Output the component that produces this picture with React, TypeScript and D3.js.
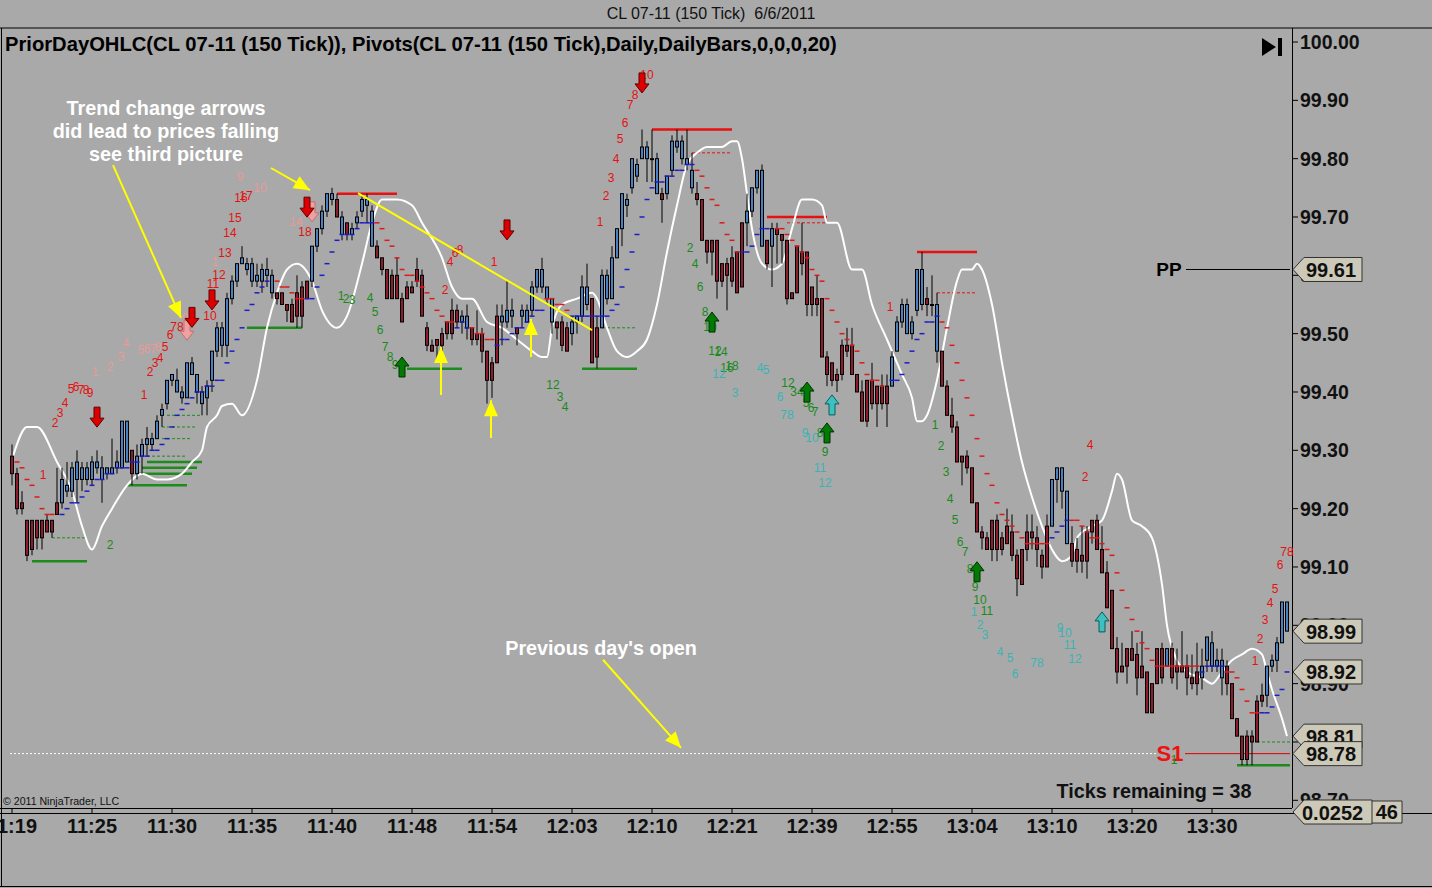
import * as d3 from "d3";

const W = 1432;
const H = 888;

// time axis labels, one every 16 bars
const timeLabels = ["11:19", "11:25", "11:30", "11:35", "11:40", "11:48", "11:54", "12:03", "12:10", "12:21", "12:39", "12:55", "13:04", "13:10", "13:20", "13:30"];
const priceTicks = [100.0, 99.9, 99.8, 99.7, 99.6, 99.5, 99.4, 99.3, 99.2, 99.1, 99.0, 98.9, 98.8, 98.7];

type Bar = [number, number, number, number]; // open, high, low, close

const bars1119: Bar[] = [
  [99.29, 99.31, 99.24, 99.26], [99.26, 99.27, 99.19, 99.2], [99.21, 99.23, 99.19, 99.2], [99.18, 99.18, 99.11, 99.12],
  [99.18, 99.18, 99.12, 99.13], [99.18, 99.18, 99.13, 99.15], [99.18, 99.18, 99.13, 99.15], [99.18, 99.19, 99.16, 99.16],
  [99.18, 99.18, 99.15, 99.16], [99.21, 99.27, 99.19, 99.19], [99.21, 99.27, 99.2, 99.25], [99.23, 99.28, 99.22, 99.24],
  [99.23, 99.28, 99.22, 99.27], [99.25, 99.3, 99.21, 99.28], [99.25, 99.28, 99.23, 99.27], [99.25, 99.28, 99.24, 99.27],
];
const bars1125: Bar[] = [
  [99.25, 99.29, 99.24, 99.28], [99.27, 99.3, 99.26, 99.28], [99.25, 99.29, 99.21, 99.27], [99.26, 99.27, 99.25, 99.27],
  [99.26, 99.32, 99.26, 99.27], [99.27, 99.3, 99.26, 99.28], [99.27, 99.35, 99.27, 99.35], [99.28, 99.35, 99.28, 99.35],
  [99.3, 99.3, 99.24, 99.26], [99.26, 99.31, 99.25, 99.29], [99.29, 99.32, 99.26, 99.31], [99.31, 99.34, 99.29, 99.32],
  [99.31, 99.33, 99.3, 99.32], [99.32, 99.36, 99.32, 99.35], [99.36, 99.38, 99.34, 99.37], [99.38, 99.42, 99.37, 99.42],
];
const bars1130: Bar[] = [
  [99.42, 99.43, 99.41, 99.43], [99.4, 99.44, 99.4, 99.42], [99.39, 99.41, 99.38, 99.4], [99.39, 99.45, 99.39, 99.45],
  [99.43, 99.46, 99.43, 99.45], [99.4, 99.43, 99.38, 99.43], [99.38, 99.41, 99.36, 99.4], [99.39, 99.42, 99.36, 99.41],
  [99.42, 99.47, 99.4, 99.47], [99.47, 99.52, 99.46, 99.51], [99.48, 99.52, 99.46, 99.51], [99.48, 99.57, 99.46, 99.56],
  [99.56, 99.6, 99.55, 99.59], [99.59, 99.62, 99.58, 99.62], [99.62, 99.65, 99.62, 99.63], [99.61, 99.63, 99.6, 99.62],
];
const bars1135: Bar[] = [
  [99.59, 99.63, 99.58, 99.62], [99.59, 99.62, 99.58, 99.6], [99.59, 99.62, 99.57, 99.61], [99.6, 99.63, 99.58, 99.61],
  [99.57, 99.61, 99.56, 99.6], [99.57, 99.57, 99.55, 99.56], [99.57, 99.57, 99.55, 99.55], [99.55, 99.55, 99.52, 99.54],
  [99.55, 99.56, 99.52, 99.52], [99.57, 99.6, 99.51, 99.53], [99.58, 99.59, 99.51, 99.53], [99.59, 99.59, 99.56, 99.56],
  [99.59, 99.65, 99.58, 99.65], [99.65, 99.68, 99.64, 99.68], [99.68, 99.72, 99.67, 99.71], [99.71, 99.74, 99.7, 99.74],
];
const bars1140: Bar[] = [
  [99.73, 99.75, 99.72, 99.74], [99.73, 99.74, 99.7, 99.7], [99.67, 99.71, 99.66, 99.7], [99.69, 99.69, 99.66, 99.67],
  [99.67, 99.69, 99.66, 99.68], [99.69, 99.71, 99.68, 99.7], [99.71, 99.74, 99.7, 99.73], [99.72, 99.74, 99.69, 99.73],
  [99.65, 99.72, 99.65, 99.71], [99.65, 99.66, 99.63, 99.63], [99.63, 99.63, 99.6, 99.61], [99.61, 99.61, 99.56, 99.56],
  [99.6, 99.61, 99.56, 99.56], [99.6, 99.63, 99.56, 99.56], [99.56, 99.57, 99.52, 99.52], [99.58, 99.59, 99.56, 99.56],
];
const bars1148: Bar[] = [
  [99.58, 99.59, 99.57, 99.57], [99.61, 99.63, 99.58, 99.59], [99.6, 99.61, 99.53, 99.53], [99.51, 99.52, 99.47, 99.48],
  [99.48, 99.49, 99.47, 99.47], [99.49, 99.49, 99.45, 99.48], [99.5, 99.51, 99.45, 99.48], [99.52, 99.52, 99.49, 99.5],
  [99.54, 99.56, 99.49, 99.5], [99.54, 99.55, 99.51, 99.52], [99.52, 99.54, 99.5, 99.53], [99.51, 99.55, 99.49, 99.53],
  [99.51, 99.51, 99.48, 99.49], [99.5, 99.54, 99.48, 99.49], [99.5, 99.51, 99.45, 99.47], [99.47, 99.47, 99.38, 99.42],
];
const bars1154: Bar[] = [
  [99.45, 99.46, 99.39, 99.42], [99.53, 99.55, 99.45, 99.45], [99.52, 99.55, 99.48, 99.53], [99.52, 99.59, 99.51, 99.54],
  [99.53, 99.56, 99.51, 99.54], [99.51, 99.51, 99.48, 99.5], [99.53, 99.55, 99.51, 99.54], [99.52, 99.55, 99.52, 99.54],
  [99.54, 99.59, 99.53, 99.58], [99.58, 99.61, 99.57, 99.61], [99.58, 99.63, 99.57, 99.61], [99.56, 99.58, 99.55, 99.58],
  [99.52, 99.56, 99.5, 99.56], [99.52, 99.52, 99.49, 99.51], [99.52, 99.53, 99.47, 99.48], [99.51, 99.52, 99.47, 99.47],
];
const bars1203: Bar[] = [
  [99.5, 99.53, 99.48, 99.52], [99.52, 99.53, 99.5, 99.53], [99.53, 99.6, 99.52, 99.58], [99.55, 99.62, 99.54, 99.58],
  [99.56, 99.56, 99.45, 99.45], [99.51, 99.53, 99.44, 99.46], [99.51, 99.61, 99.51, 99.6], [99.56, 99.61, 99.55, 99.6],
  [99.56, 99.65, 99.56, 99.63], [99.63, 99.68, 99.63, 99.68], [99.68, 99.74, 99.65, 99.74], [99.72, 99.74, 99.7, 99.73],
  [99.75, 99.8, 99.74, 99.8], [99.77, 99.8, 99.76, 99.79], [99.8, 99.85, 99.8, 99.82], [99.8, 99.83, 99.76, 99.82],
];
const bars1210: Bar[] = [
  [99.8, 99.85, 99.76, 99.8], [99.74, 99.81, 99.74, 99.8], [99.74, 99.75, 99.69, 99.73], [99.74, 99.77, 99.73, 99.77],
  [99.78, 99.84, 99.77, 99.83], [99.82, 99.85, 99.81, 99.83], [99.8, 99.84, 99.79, 99.83], [99.79, 99.85, 99.78, 99.8],
  [99.75, 99.81, 99.74, 99.78], [99.74, 99.76, 99.72, 99.73], [99.73, 99.73, 99.66, 99.66], [99.66, 99.66, 99.62, 99.64],
  [99.66, 99.66, 99.6, 99.64], [99.66, 99.66, 99.56, 99.59], [99.62, 99.62, 99.58, 99.59], [99.62, 99.63, 99.54, 99.6],
];
const bars1221: Bar[] = [
  [99.63, 99.65, 99.58, 99.59], [99.64, 99.64, 99.57, 99.57], [99.69, 99.69, 99.58, 99.58], [99.69, 99.74, 99.65, 99.71],
  [99.71, 99.75, 99.7, 99.75], [99.75, 99.78, 99.74, 99.78], [99.65, 99.79, 99.65, 99.78], [99.66, 99.66, 99.61, 99.62],
  [99.65, 99.69, 99.58, 99.68], [99.68, 99.69, 99.62, 99.67], [99.67, 99.67, 99.62, 99.66], [99.66, 99.66, 99.55, 99.56],
  [99.57, 99.57, 99.56, 99.56], [99.65, 99.65, 99.57, 99.57], [99.64, 99.69, 99.6, 99.62], [99.64, 99.64, 99.53, 99.55],
];
const bars1239: Bar[] = [
  [99.58, 99.58, 99.53, 99.55], [99.56, 99.6, 99.53, 99.55], [99.56, 99.56, 99.46, 99.46], [99.46, 99.47, 99.41, 99.43],
  [99.45, 99.45, 99.41, 99.42], [99.43, 99.44, 99.4, 99.42], [99.48, 99.49, 99.42, 99.43], [99.48, 99.51, 99.46, 99.47],
  [99.48, 99.51, 99.43, 99.43], [99.43, 99.43, 99.4, 99.4], [99.4, 99.42, 99.35, 99.35], [99.42, 99.42, 99.34, 99.35],
  [99.42, 99.45, 99.37, 99.38], [99.41, 99.41, 99.34, 99.38], [99.41, 99.43, 99.37, 99.38], [99.41, 99.43, 99.34, 99.38],
];
const bars1255: Bar[] = [
  [99.41, 99.47, 99.41, 99.46], [99.47, 99.53, 99.47, 99.52], [99.52, 99.56, 99.51, 99.55], [99.5, 99.56, 99.5, 99.55],
  [99.5, 99.53, 99.49, 99.52], [99.54, 99.61, 99.53, 99.61], [99.55, 99.64, 99.54, 99.61], [99.56, 99.58, 99.53, 99.55],
  [99.55, 99.6, 99.53, 99.55], [99.47, 99.57, 99.45, 99.55], [99.47, 99.47, 99.41, 99.41], [99.41, 99.42, 99.36, 99.36],
  [99.36, 99.39, 99.33, 99.34], [99.34, 99.35, 99.28, 99.28], [99.29, 99.29, 99.24, 99.28], [99.29, 99.3, 99.26, 99.27],
];
const bars1304: Bar[] = [
  [99.27, 99.27, 99.21, 99.21], [99.21, 99.21, 99.16, 99.16], [99.16, 99.17, 99.13, 99.15], [99.15, 99.16, 99.13, 99.13],
  [99.18, 99.18, 99.11, 99.13], [99.18, 99.19, 99.11, 99.13], [99.15, 99.16, 99.12, 99.13], [99.17, 99.2, 99.14, 99.14],
  [99.16, 99.19, 99.11, 99.12], [99.12, 99.13, 99.05, 99.08], [99.13, 99.13, 99.07, 99.07], [99.16, 99.19, 99.11, 99.13],
  [99.16, 99.19, 99.13, 99.15], [99.15, 99.17, 99.1, 99.13], [99.12, 99.13, 99.08, 99.1], [99.17, 99.19, 99.1, 99.1],
];
const bars1310: Bar[] = [
  [99.17, 99.25, 99.17, 99.25], [99.25, 99.27, 99.21, 99.27], [99.23, 99.27, 99.2, 99.27], [99.14, 99.23, 99.14, 99.23],
  [99.14, 99.17, 99.1, 99.11], [99.13, 99.15, 99.09, 99.11], [99.12, 99.17, 99.09, 99.11], [99.16, 99.17, 99.08, 99.11],
  [99.18, 99.18, 99.14, 99.16], [99.18, 99.19, 99.13, 99.13], [99.13, 99.17, 99.09, 99.09], [99.09, 99.11, 99.03, 99.03],
  [99.06, 99.06, 98.96, 98.96], [98.96, 98.98, 98.9, 98.92], [98.93, 98.97, 98.92, 98.92], [98.96, 98.96, 98.9, 98.93],
];
const bars1320: Bar[] = [
  [98.96, 98.99, 98.94, 98.94], [98.95, 98.97, 98.88, 98.91], [98.93, 98.99, 98.91, 98.91], [98.92, 98.92, 98.85, 98.85],
  [98.9, 98.9, 98.85, 98.85], [98.96, 98.96, 98.9, 98.9], [98.96, 98.97, 98.9, 98.91], [98.93, 98.96, 98.93, 98.96],
  [98.96, 98.97, 98.9, 98.91], [98.93, 98.96, 98.89, 98.92], [98.93, 98.99, 98.92, 98.92], [98.93, 98.95, 98.88, 98.91],
  [98.91, 98.95, 98.89, 98.9], [98.92, 98.97, 98.88, 98.9], [98.91, 98.96, 98.89, 98.93], [98.94, 98.98, 98.92, 98.98],
];
const bars1330: Bar[] = [
  [98.93, 98.99, 98.92, 98.97], [98.93, 98.96, 98.92, 98.94], [98.91, 98.96, 98.88, 98.94], [98.93, 98.94, 98.88, 98.9],
  [98.9, 98.9, 98.84, 98.84], [98.84, 98.84, 98.81, 98.81], [98.81, 98.81, 98.76, 98.77], [98.81, 98.82, 98.76, 98.77],
  [98.81, 98.82, 98.76, 98.8], [98.87, 98.88, 98.8, 98.8], [98.88, 98.9, 98.86, 98.87], [98.88, 98.93, 98.86, 98.93],
  [98.93, 98.95, 98.92, 98.94], [98.94, 98.98, 98.92, 98.97], [98.97, 99.04, 98.97, 99.04], [98.99, 99.04, 98.99, 99.04],
];

// white band line: [bar, price]
const whiteBand: [number, number][] = [
  [0.2, 99.29], [3, 99.34], [5, 99.34], [9, 99.28], [12, 99.23], [14, 99.17], [16, 99.13], [18, 99.17], [20, 99.2],
  [23, 99.24], [26, 99.26], [29, 99.25], [31, 99.25], [34, 99.26], [36, 99.28], [38, 99.3], [39, 99.34], [41, 99.36],
  [42, 99.376], [44, 99.38], [46, 99.36], [49, 99.42], [51, 99.51], [53, 99.57], [55, 99.61], [57, 99.62], [60, 99.59],
  [62, 99.54], [65, 99.51], [67, 99.53], [70, 99.62], [72, 99.69], [74, 99.73], [77, 99.73], [80, 99.72], [82, 99.69],
  [86, 99.63], [88, 99.58], [90, 99.56], [92, 99.56], [95, 99.52], [98, 99.51], [101, 99.49], [104, 99.47], [106, 99.46],
  [107, 99.46], [108, 99.51], [110, 99.55], [113, 99.56], [116, 99.57], [117, 99.56], [119, 99.51], [121, 99.47],
  [123, 99.46], [125, 99.47], [127, 99.49], [129, 99.55], [131, 99.64], [133, 99.72], [135, 99.79], [137, 99.81],
  [139, 99.82], [141, 99.82], [142, 99.82], [144, 99.83], [145, 99.83], [146, 99.8], [147, 99.74], [148, 99.68],
  [150, 99.62], [152, 99.61], [154, 99.62], [156, 99.68], [158, 99.73], [160, 99.73], [162, 99.72], [163, 99.69],
  [165, 99.69], [168, 99.61], [170, 99.61], [172, 99.55], [175, 99.49], [178, 99.43], [180, 99.39], [181, 99.35],
  [182, 99.35], [183, 99.36], [185, 99.42], [187, 99.51], [189, 99.59], [190, 99.61], [192, 99.61], [193, 99.62],
  [194, 99.61], [196, 99.55], [198, 99.45], [200, 99.36], [202, 99.28], [204, 99.22], [206, 99.17], [208, 99.13],
  [210, 99.11], [212, 99.12], [213, 99.15], [216, 99.17], [218, 99.18], [220, 99.23], [221, 99.26], [222, 99.25],
  [224, 99.18], [226, 99.17], [228, 99.15], [230, 99.07], [231, 99.0], [233, 98.94], [235, 98.92], [238, 98.91],
  [240, 98.9], [242, 98.92], [244, 98.94], [246, 98.95], [248, 98.96], [250, 98.95], [251, 98.92], [252, 98.89],
  [254, 98.84], [255, 98.81],
];

// trailing stop dashes: [first bar, prices]
const blueStops: [number, number[]][] = [
  [10, [99.19, 99.2, 99.21, 99.21, 99.22, 99.23, 99.24, 99.25, 99.25, 99.26, 99.26, 99.27, 99.27, 99.27, 99.28, 99.28, 99.29, 99.29, 99.3, 99.3, 99.31, 99.32, 99.34, 99.36, 99.37, 99.38, 99.39, 99.4, 99.4, 99.41, 99.41, 99.42, 99.42, 99.45, 99.47, 99.49, 99.51, 99.54, 99.55, 99.57, 99.58, 99.59]],
  [59, [99.56, 99.56, 99.58, 99.6, 99.62, 99.64, 99.66, 99.67, 99.67, 99.67, 99.68, 99.69, 99.69, 99.69]],
  [89, [99.51, 99.52, 99.51]],
  [97, [99.48, 99.49, 99.49, 99.5, 99.51, 99.51, 99.52, 99.53, 99.54, 99.54]],
  [112, [99.53, 99.53, 99.53, 99.53, 99.53, 99.53, 99.53, 99.53, 99.54, 99.55, 99.58, 99.61, 99.64, 99.67, 99.7, 99.73, 99.75, 99.76, 99.76, 99.77, 99.77, 99.78, 99.78, 99.79, 99.79]],
  [146, [99.64, 99.64, 99.65, 99.67, 99.68, 99.68]],
  [176, [99.42, 99.42, 99.43, 99.45, 99.47, 99.49, 99.5, 99.52, 99.52, 99.53]],
  [208, [99.15, 99.16, 99.17, 99.18]],
  [238, [98.92, 98.93, 98.93, 98.93, 98.93]],
  [250, [98.85, 98.85, 98.86, 98.88, 98.89, 98.92]],
];
const redStops: [number, number[]][] = [
  [1, [99.28, 99.27, 99.25, 99.24, 99.22, 99.2, 99.19, 99.19]],
  [53, [99.59, 99.58, 99.58, 99.57, 99.56, 99.56]],
  [73, [99.69, 99.68, 99.66, 99.65, 99.63, 99.61, 99.6, 99.6, 99.59, 99.58, 99.57, 99.56, 99.54, 99.53, 99.52, 99.52]],
  [92, [99.51, 99.5, 99.5, 99.49, 99.49]],
  [107, [99.56, 99.56, 99.55, 99.55, 99.54]],
  [137, [99.78, 99.77, 99.75, 99.73, 99.72, 99.69, 99.67, 99.66, 99.64]],
  [153, [99.68, 99.68, 99.67, 99.66, 99.65, 99.64, 99.63, 99.61, 99.6, 99.59, 99.56, 99.54, 99.52, 99.5, 99.49, 99.48, 99.47, 99.45, 99.43, 99.42, 99.42, 99.41]],
  [186, [99.52, 99.51, 99.48, 99.45, 99.42, 99.39, 99.36, 99.32, 99.29, 99.26, 99.24, 99.21, 99.19, 99.18, 99.17, 99.16, 99.15, 99.14, 99.14, 99.14, 99.14, 99.14]],
  [212, [99.18, 99.18, 99.17, 99.16, 99.15, 99.15, 99.14, 99.13, 99.12, 99.09, 99.06, 99.03, 99.01, 98.99, 98.97, 98.96, 98.94, 98.93, 98.93, 98.93, 98.93, 98.93, 98.93, 98.93, 98.93, 98.93]],
  [243, [98.92, 98.92, 98.91, 98.89, 98.87, 98.85, 98.85]],
];

// swing levels: [from bar, to bar, price, dashed]
const greenLevels: [number, number, number, boolean][] = [
  [4, 15, 99.11, false], [8, 15, 99.15, true], [23, 35, 99.24, false], [25, 36, 99.26, false], [26, 37, 99.27, false],
  [27, 38, 99.28, false], [27, 35, 99.29, true], [30, 36, 99.32, true], [30, 37, 99.34, true], [31, 38, 99.36, true],
  [47, 58, 99.51, false], [79, 90, 99.44, false], [114, 125, 99.44, false], [118, 125, 99.51, true],
  [245, 255.6, 98.76, false], [249, 255.6, 98.8, true],
];
const redLevels: [number, number, number, boolean][] = [
  [65, 77, 99.74, false], [128, 144, 99.85, false], [136, 144, 99.81, true], [151, 163, 99.7, false],
  [155, 163, 99.69, true], [181, 193, 99.64, false], [185, 193, 99.57, true],
];

// trend arrows: [bar, price]
const redDownArrows: [number, number][] = [[17, 99.374], [36, 99.545], [40, 99.575], [59, 99.734], [99, 99.695], [126, 99.947]];
const paleDownArrows: [number, number][] = [[35, 99.523], [60, 99.726]];
const greenUpArrows: [number, number][] = [[78, 99.46], [140, 99.537], [159, 99.417], [163, 99.347], [193, 99.109]];
const cyanUpArrows: [number, number][] = [[164, 99.395], [218, 99.023]];

// setup counts: [bar, price, label]
const redCounts: [number, number, string][] = [
  [6.2, 99.258, "1"], [8.6, 99.347, "2"], [9.6, 99.364, "3"], [10.6, 99.381, "4"], [11.8, 99.405, "5"], [12.8, 99.409, "6"],
  [13.8, 99.403, "7"], [14.8, 99.403, "8"], [15.6, 99.398, "9"], [26.4, 99.395, "1"], [27.6, 99.434, "2"], [28.6, 99.45, "3"],
  [29.6, 99.458, "4"], [30.6, 99.477, "5"], [31.6, 99.498, "6"], [33, 99.511, "78"], [39.6, 99.53, "10"], [40.2, 99.585, "11"],
  [41.4, 99.601, "12"], [42.6, 99.638, "13"], [43.6, 99.673, "14"], [44.6, 99.698, "15"], [45.8, 99.733, "16"], [46.8, 99.736, "17"],
  [58.6, 99.674, "18"], [86.6, 99.575, "2"], [87.6, 99.623, "4"], [88.6, 99.638, "6"], [89.6, 99.643, "8"], [96.4, 99.623, "1"],
  [117.6, 99.691, "1"], [118.8, 99.736, "2"], [119.8, 99.767, "3"], [120.8, 99.799, "4"], [121.6, 99.834, "5"], [122.6, 99.861, "6"],
  [123.6, 99.892, "7"], [124.6, 99.909, "8"], [127, 99.943, "10"], [175.6, 99.546, "1"], [214.6, 99.254, "2"], [215.6, 99.309, "4"],
  [248.6, 98.939, "1"], [249.6, 98.977, "2"], [250.6, 99.009, "3"], [251.6, 99.038, "4"], [252.6, 99.062, "5"], [253.6, 99.103, "6"],
  [255, 99.126, "78"],
];
const paleCounts: [number, number, string][] = [
  [16.6, 99.434, "1"], [19.6, 99.443, "2"], [21.8, 99.46, "3"], [22.8, 99.484, "4"], [25.8, 99.472, "5"], [27, 99.474, "6"],
  [28.2, 99.474, "7"], [29.2, 99.477, "8"], [34.6, 99.527, "9"], [40.6, 99.623, "1"], [45.6, 99.769, "9"], [49.6, 99.75, "10"],
  [56.8, 99.691, "14"],
];
const greenCounts: [number, number, string][] = [
  [19.6, 99.138, "2"], [65.8, 99.565, "1"], [66.8, 99.559, "2"], [68, 99.558, "3"], [71.6, 99.561, "4"], [72.6, 99.537, "5"],
  [73.6, 99.506, "6"], [74.6, 99.477, "7"], [75.6, 99.46, "8"], [76.6, 99.446, "9"], [108.2, 99.412, "12"], [109.6, 99.391, "3"],
  [110.6, 99.374, "4"], [135.6, 99.647, "2"], [136.6, 99.619, "4"], [137.6, 99.58, "6"], [138.6, 99.537, "8"], [139.6, 99.511, "10"],
  [140.6, 99.47, "12"], [141.8, 99.469, "14"], [143, 99.441, "16"], [144, 99.445, "18"], [155.2, 99.415, "12"], [157, 99.4, "34"],
  [158.8, 99.381, "5"], [159.8, 99.373, "6"], [160.6, 99.366, "7"], [161.6, 99.33, "8"], [162.6, 99.297, "9"], [184.6, 99.343, "1"],
  [185.8, 99.307, "2"], [186.8, 99.263, "3"], [187.6, 99.217, "4"], [188.6, 99.181, "5"], [189.6, 99.143, "6"], [190.6, 99.126, "7"],
  [191.6, 99.097, "8"], [192.6, 99.066, "9"], [193.6, 99.043, "10"], [195, 99.025, "11"], [232.4, 98.769, "1"],
];
const cyanCounts: [number, number, string][] = [
  [141.4, 99.431, "12"], [144.6, 99.398, "3"], [149.6, 99.441, "4"], [150.8, 99.438, "5"], [153.6, 99.391, "6"], [155, 99.361, "78"],
  [158.6, 99.33, "9"], [160, 99.321, "10"], [161.6, 99.27, "11"], [162.6, 99.244, "12"], [192.4, 99.023, "1"], [193.6, 99.001, "2"],
  [194.6, 98.983, "3"], [197.6, 98.954, "4"], [199.6, 98.944, "5"], [200.6, 98.917, "6"], [205, 98.935, "78"], [209.6, 98.995, "9"],
  [210.6, 98.987, "10"], [211.6, 98.966, "11"], [212.6, 98.942, "12"],
];

// drawn annotations: [bar, price] pairs
const yellowArrows: [number, number][][] = [
  [[20.2, 99.789], [33.8, 99.527]],
  [[51.8, 99.784], [59.6, 99.746]],
  [[118.2, 98.941], [133.8, 98.79]],
  [[85.8, 99.395], [85.8, 99.477]],
  [[95.8, 99.321], [95.8, 99.386]],
  [[103.8, 99.46], [103.8, 99.525]],
];
const yellowTrendLine: [number, number][] = [[69.2, 99.741], [116, 99.506]];

const pivotPP = 99.61;
const pivotS1 = 98.78;
const priorOpen = 98.78;
const axisMarkers = [99.61, 98.99, 98.92, 98.81, 98.78];

const FONT = "'Liberation Sans', Arial, sans-serif";

const headPoints = (x1: number, y1: number, x2: number, y2: number, len: number, wid: number) => {
  const a = Math.atan2(y2 - y1, x2 - x1);
  const bx = x2 - len * Math.cos(a);
  const by = y2 - len * Math.sin(a);
  const px = (wid / 2) * Math.sin(a);
  const py = (wid / 2) * Math.cos(a);
  return `${x2},${y2} ${bx + px},${by - py} ${bx - px},${by + py}`;
};

const downArrow = (cx: number, top: number) => `M${cx - 3},${top} h6 v11 h4 l-7,9 l-7,-9 h4 z`;
const upArrow = (cx: number, tip: number) => `M${cx},${tip} l7,9 h-4 v11 h-6 v-11 h-4 z`;

export default function App() {
  const bars = [
    ...bars1119, ...bars1125, ...bars1130, ...bars1135, ...bars1140, ...bars1148, ...bars1154, ...bars1203,
    ...bars1210, ...bars1221, ...bars1239, ...bars1255, ...bars1304, ...bars1310, ...bars1320, ...bars1330,
  ];
  const x = d3.scaleLinear().domain([0, 255]).range([12, 1287]);
  const y = d3.scaleLinear().domain([98.7, 100]).range([800.3, 42]);
  const band = d3.line<[number, number]>().x((d) => x(d[0])).y((d) => y(d[1])).curve(d3.curveMonotoneX);

  const countText = (list: [number, number, string][], fill: string, key: string) =>
    list.map(([b, p, t], i) => (
      <text key={key + i} x={x(b)} y={y(p)} fill={fill} fontSize={12} textAnchor="middle" dominantBaseline="central" fontFamily={FONT}>{t}</text>
    ));

  const stopDashes = (runs: [number, number[]][], stroke: string, key: string) =>
    runs.flatMap(([start, vals], r) =>
      vals.map((p, i) => (
        <line key={`${key}${r}-${i}`} x1={x(start + i) - 2.5} x2={x(start + i) + 2.5} y1={y(p)} y2={y(p)} stroke={stroke} strokeWidth={1.5} />
      ))
    );

  const levels = (list: [number, number, number, boolean][], stroke: string, key: string) =>
    list.map(([a, b, p, dashed], i) => (
      <line key={key + i} x1={x(a)} x2={x(b)} y1={y(p)} y2={y(p)} stroke={stroke}
        strokeWidth={dashed ? 1 : 2.5} strokeDasharray={dashed ? "3,2" : undefined} />
    ));

  return (
    <div style={{ position: "absolute", left: 0, top: 0 }}>
      <svg width={W} height={H} style={{ display: "block" }}>
        <rect x={0} y={0} width={W} height={H} fill="#a9a9a9" />
        <text x={711} y={19} textAnchor="middle" fontSize={16} fontFamily={FONT} fill="#111" style={{ whiteSpace: "pre" }}>
          {"CL 07-11 (150 Tick)  6/6/2011"}
        </text>

        {/* frame */}
        <line x1={0} x2={W} y1={28} y2={28} stroke="#000" />
        <line x1={1.5} x2={1.5} y1={28} y2={887} stroke="#000" />
        <line x1={1292.5} x2={1292.5} y1={28} y2={808} stroke="#000" />
        <line x1={0} x2={1292} y1={808.5} y2={808.5} stroke="#000" />
        <line x1={0} x2={W} y1={813.5} y2={813.5} stroke="#000" />
        <line x1={0} x2={W} y1={886.5} y2={886.5} stroke="#000" />

        {/* price axis */}
        {priceTicks.map((p) => (
          <g key={p}>
            <line x1={1292} x2={1298} y1={y(p)} y2={y(p)} stroke="#000" />
            <text x={1300} y={y(p) + 7} fontSize={19.5} fontWeight="bold" fontFamily={FONT} fill="#111">{p.toFixed(2)}</text>
          </g>
        ))}

        {/* time axis */}
        {timeLabels.map((t, i) => (
          <g key={t}>
            <line x1={x(i * 16)} x2={x(i * 16)} y1={808} y2={813} stroke="#000" />
            <text x={x(i * 16)} y={833} textAnchor="middle" fontSize={20} fontWeight="bold" fontFamily={FONT} fill="#111">{t}</text>
          </g>
        ))}

        <text x={5} y={51} fontSize={20.2} fontWeight="bold" fontFamily={FONT} fill="#000">
          PriorDayOHLC(CL 07-11 (150 Tick)), Pivots(CL 07-11 (150 Tick),Daily,DailyBars,0,0,0,20)
        </text>
        <path d="M1262,38 L1262,56 L1276,47 Z" fill="#000" />
        <rect x={1278} y={38} width={4} height={18} fill="#000" />

        {/* prior open and pivots */}
        <line x1={x(-0.4)} x2={1158} y1={y(priorOpen)} y2={y(priorOpen)} stroke="#fff" strokeDasharray="2,2" />
        <line x1={1185} x2={1290} y1={y(pivotS1)} y2={y(pivotS1)} stroke="#e00000" />
        <text x={1170} y={y(pivotS1)} fill="#ee1111" fontSize={22} fontWeight="bold" textAnchor="middle" dominantBaseline="central" fontFamily={FONT}>S1</text>
        <line x1={1186} x2={1290} y1={y(pivotPP)} y2={y(pivotPP)} stroke="#000" />
        <text x={1169} y={y(pivotPP)} fill="#000" fontSize={19} fontWeight="bold" textAnchor="middle" dominantBaseline="central" fontFamily={FONT}>PP</text>

        {levels(greenLevels, "#1d8c1d", "g")}
        {levels(redLevels, "#e81010", "r")}

        {/* white band */}
        <path d={band(whiteBand) ?? ""} fill="none" stroke="#fff" strokeWidth={2} />

        {/* candles */}
        {bars.map(([o, h, l, c], i) => {
          const up = c >= o;
          const top = y(Math.max(o, c));
          const hgt = Math.max(1, Math.abs(y(o) - y(c)));
          return (
            <g key={i}>
              <line x1={x(i)} x2={x(i)} y1={y(h)} y2={y(l)} stroke="#000" />
              <rect x={x(i) - 1.5} y={top} width={3} height={hgt} fill={up ? "#4a7fc0" : "#8c1c2c"} stroke="#000" strokeWidth={1} />
            </g>
          );
        })}

        {stopDashes(blueStops, "#1c1cc8", "b")}
        {stopDashes(redStops, "#e01818", "rs")}

        {countText(paleCounts, "#e79a9a", "pc")}
        {countText(redCounts, "#e41212", "rc")}
        {countText(greenCounts, "#1b8a1b", "gc")}
        {countText(cyanCounts, "#3cb3b3", "cc")}

        {paleDownArrows.map(([b, p], i) => (
          <path key={"pa" + i} d={downArrow(x(b), y(p))} fill="#f0a0a0" stroke="#c07070" />
        ))}
        {redDownArrows.map(([b, p], i) => (
          <path key={"ra" + i} d={downArrow(x(b), y(p))} fill="#dd0000" stroke="#600000" />
        ))}
        {greenUpArrows.map(([b, p], i) => (
          <path key={"ga" + i} d={upArrow(x(b), y(p))} fill="#007a00" stroke="#003000" />
        ))}
        {cyanUpArrows.map(([b, p], i) => (
          <path key={"ca" + i} d={upArrow(x(b), y(p))} fill="#3cc0c0" stroke="#105a5a" />
        ))}

        {/* annotations */}
        <line x1={x(yellowTrendLine[0][0])} y1={y(yellowTrendLine[0][1])} x2={x(yellowTrendLine[1][0])} y2={y(yellowTrendLine[1][1])} stroke="#ffff00" strokeWidth={2} />
        {yellowArrows.map(([a, b], i) => {
          const x1 = x(a[0]), y1 = y(a[1]), x2 = x(b[0]), y2 = y(b[1]);
          return (
            <g key={"ya" + i}>
              <line x1={x1} y1={y1} x2={x2} y2={y2} stroke="#ffff00" strokeWidth={2} />
              <polygon points={headPoints(x1, y1, x2, y2, 16, 14)} fill="#ffff00" />
            </g>
          );
        })}
        <g fill="#fff" fontSize={19.8} fontWeight="bold" fontFamily={FONT} textAnchor="middle">
          <text x={166} y={115}>Trend change arrows</text>
          <text x={166} y={138}>did lead to prices falling</text>
          <text x={166} y={161}>see third picture</text>
          <text x={601} y={655}>Previous day's open</text>
        </g>

        <text x={1154} y={798} textAnchor="middle" fontSize={19.8} fontWeight="bold" fontFamily={FONT} fill="#111">Ticks remaining = 38</text>
        <text x={3} y={805} fontSize={10.6} fontFamily={FONT} fill="#111">© 2011 NinjaTrader, LLC</text>

        {/* price markers on the axis */}
        {axisMarkers.map((p) => {
          const yc = y(p);
          return (
            <g key={"m" + p}>
              <polygon points={`1293,${yc} 1304,${yc - 12} 1362,${yc - 12} 1362,${yc + 12} 1304,${yc + 12}`} fill="#cdc9b8" stroke="#333" />
              <text x={1306} y={yc + 7.5} fontSize={20} fontWeight="bold" fontFamily={FONT} fill="#111">{p.toFixed(2)}</text>
            </g>
          );
        })}
        <polygon points="1330,801 1402,801 1402,823 1330,823" fill="#cdc9b8" stroke="#333" />
        <text x={1398} y={819} textAnchor="end" fontSize={20} fontWeight="bold" fontFamily={FONT} fill="#111">46</text>
        <polygon points="1293,812 1304,800 1372,800 1372,824 1304,824" fill="#cdc9b8" stroke="#333" />
        <text x={1302} y={820} fontSize={20} fontWeight="bold" fontFamily={FONT} fill="#111">0.0252</text>
      </svg>
    </div>
  );
}
